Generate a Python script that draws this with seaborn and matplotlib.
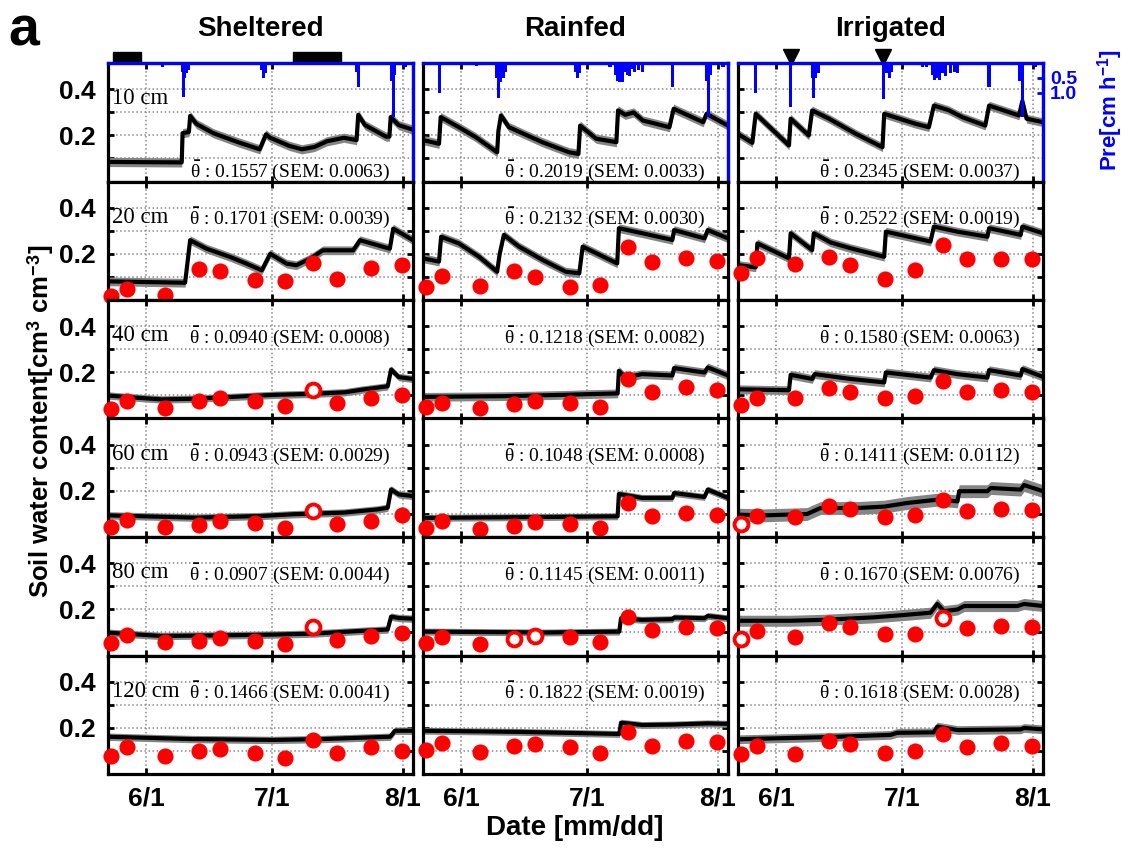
import matplotlib
matplotlib.use("Agg")
import numpy as np
import seaborn as sns
import matplotlib.pyplot as plt
import matplotlib.transforms as mtransforms
from matplotlib.patches import Rectangle

sns.set_theme(style="white")
plt.rcParams["font.family"] = ["Liberation Sans", "DejaVu Sans"]
plt.rcParams["font.weight"] = "bold"
plt.rcParams["text.color"] = "black"
plt.rcParams["axes.labelcolor"] = "black"
plt.rcParams["xtick.color"] = "black"
plt.rcParams["ytick.color"] = "black"
plt.rcParams["mathtext.fontset"] = "custom"
plt.rcParams["mathtext.rm"] = "Liberation Sans:weight=bold"
plt.rcParams["mathtext.bf"] = "Liberation Sans:weight=bold"
plt.rcParams["mathtext.it"] = "Liberation Serif:weight=normal"

# ---------------- data ----------------
treatments = ["Sheltered", "Rainfed", "Irrigated"]
depth_labels = ["10 cm", "20 cm", "40 cm", "60 cm", "80 cm", "120 cm"]
tick_days = [0, 30, 61]
tick_labels = ["6/1", "7/1", "8/1"]

# manual sampling dates (days after 6/1)
sample_days = [-8.4, -4.5, 4.6, 12.7, 17.6, 25.8, 32.9, 39.6, 45.4, 53.5, 60.8]

theta_sh = ["0.1557", "0.1701", "0.0940", "0.0943", "0.0907", "0.1466"]
sem_sh = ["0.0063", "0.0039", "0.0008", "0.0029", "0.0044", "0.0041"]
theta_rf = ["0.2019", "0.2132", "0.1218", "0.1048", "0.1145", "0.1822"]
sem_rf = ["0.0033", "0.0030", "0.0082", "0.0008", "0.0011", "0.0019"]
theta_ir = ["0.2345", "0.2522", "0.1580", "0.1411", "0.1670", "0.1618"]
sem_ir = ["0.0037", "0.0019", "0.0063", "0.0112", "0.0076", "0.0028"]

# sensor series (day after 6/1, soil water content)
line_sh_10 = [(-9, 0.085), (8.5, 0.083), (8.7, 0.21), (10.2, 0.215), (10.5, 0.285), (12, 0.25), (16, 0.21),
              (22, 0.17), (27, 0.14), (28.5, 0.205), (29.5, 0.19), (34, 0.155), (37, 0.14), (40, 0.15),
              (43, 0.175), (47, 0.19), (50, 0.18), (50.4, 0.29), (52, 0.245), (57, 0.195), (57.8, 0.195),
              (58.1, 0.28), (60, 0.245), (63.4, 0.225)]
line_rf_10 = [(-9, 0.18), (-5.2, 0.164), (-4.8, 0.28), (-0.5, 0.236), (3.5, 0.193), (8.6, 0.127), (8.9, 0.22),
              (9.5, 0.287), (11.4, 0.236), (19.3, 0.171), (25.7, 0.127), (27.9, 0.12), (28.3, 0.243),
              (32.1, 0.186), (36.9, 0.171), (37.3, 0.309), (39, 0.29), (41, 0.3), (43.2, 0.265), (49.5, 0.236),
              (50.5, 0.316), (57.5, 0.258), (58.3, 0.294), (63.4, 0.243)]
line_ir_10 = [(-9, 0.207), (-5.6, 0.168), (-4.8, 0.294), (3.1, 0.157), (3.5, 0.273), (7.8, 0.2), (8.6, 0.309),
              (12.6, 0.273), (19, 0.207), (25.3, 0.149), (25.7, 0.294), (33.1, 0.251), (36.3, 0.236),
              (37.5, 0.33), (41, 0.31), (44.2, 0.28), (49.7, 0.243), (50.6, 0.33), (57.7, 0.287), (58.5, 0.35),
              (59.5, 0.273), (63.4, 0.258)]

line_sh_20 = [(-9, 0.081), (9.3, 0.075), (10.5, 0.26), (14.4, 0.223), (20, 0.187), (23.9, 0.158), (27.5, 0.129),
              (29.5, 0.201), (33.4, 0.158), (35.7, 0.151), (39, 0.18), (42, 0.216), (49.2, 0.216), (50.8, 0.26),
              (57.9, 0.223), (58.7, 0.31), (63.4, 0.26)]
line_rf_20 = [(-9, 0.181), (-5.2, 0.167), (-4.7, 0.275), (-0.5, 0.246), (4.3, 0.188), (8.6, 0.123), (9.2, 0.2),
              (10.2, 0.283), (13.8, 0.232), (19.4, 0.174), (24.9, 0.123), (28.1, 0.116), (28.9, 0.232),
              (37.1, 0.159), (37.5, 0.312), (43.1, 0.29), (50.2, 0.261), (50.6, 0.304), (57.8, 0.268),
              (58.6, 0.304), (63.4, 0.268)]
line_ir_20 = [(-9, 0.152), (-4.8, 0.142), (-4.4, 0.246), (3.1, 0.181), (3.5, 0.29), (8.6, 0.217), (9.0, 0.29),
              (13, 0.25), (17.7, 0.225), (25.7, 0.188), (26.1, 0.297), (36.7, 0.254), (37.5, 0.319),
              (43.1, 0.297), (50.2, 0.275), (50.6, 0.312), (58.1, 0.283), (58.5, 0.319), (63.4, 0.29)]

line_sh_40 = [(-9, 0.1), (-4.2, 0.093), (3.7, 0.083), (11.6, 0.086), (19.5, 0.093), (30.6, 0.103),
              (39.3, 0.107), (47.2, 0.114), (51.1, 0.125), (57.4, 0.14), (58.2, 0.213), (60, 0.18), (63.4, 0.172)]
line_rf_40 = [(-9, 0.094), (10, 0.097), (25, 0.103), (30.5, 0.106), (37.2, 0.109), (37.5, 0.207), (39.1, 0.178),
              (43, 0.193), (50.2, 0.187), (50.6, 0.219), (57.8, 0.2), (58.6, 0.222), (63.4, 0.187)]
line_ir_40 = [(-9, 0.127), (3.1, 0.123), (3.5, 0.19), (8.6, 0.172), (9.2, 0.193), (17.7, 0.172), (25.7, 0.157),
              (26.1, 0.2), (36.7, 0.178), (37.5, 0.21), (43, 0.193), (50.2, 0.178), (50.6, 0.21), (58.1, 0.187),
              (58.5, 0.215), (63.4, 0.181)]

line_sh_60 = [(-9, 0.094), (3.7, 0.088), (11.6, 0.084), (27, 0.091), (35, 0.099), (47, 0.106), (55, 0.12),
              (57.4, 0.127), (58.2, 0.207), (60, 0.185), (63.4, 0.178)]
line_rf_60 = [(-9, 0.083), (20, 0.087), (37.2, 0.09), (37.5, 0.187), (43, 0.17), (50.2, 0.17), (50.6, 0.191),
              (57.8, 0.174), (58.6, 0.206), (63.4, 0.17)]
line_ir_60 = [(-9, 0.097), (-2.9, 0.094), (7.4, 0.1), (10.6, 0.126), (19.3, 0.126), (25.7, 0.132), (31.2, 0.148),
              (38.3, 0.162), (43.1, 0.155), (43.5, 0.199), (50.2, 0.199), (51, 0.213), (58.1, 0.206),
              (58.9, 0.226), (63.4, 0.199)]

line_sh_80 = [(-9, 0.099), (3.7, 0.085), (19.5, 0.088), (30.6, 0.091), (39.3, 0.095), (51.1, 0.107),
              (57.4, 0.113), (58.2, 0.169), (60, 0.163), (63.4, 0.16)]
line_rf_80 = [(-9, 0.104), (20, 0.1), (37.6, 0.104), (38, 0.162), (43, 0.155), (50.2, 0.158), (50.6, 0.165),
              (57.8, 0.162), (58.6, 0.172), (63.4, 0.162)]
line_ir_80 = [(-9, 0.151), (3.5, 0.151), (11.4, 0.155), (23.3, 0.166), (30.4, 0.176), (36.7, 0.186),
              (38.3, 0.224), (39.9, 0.193), (43.1, 0.2), (44.7, 0.215), (57.3, 0.215), (58.9, 0.224),
              (63.4, 0.215)]

line_sh_120 = [(-9, 0.162), (10.5, 0.152), (30.2, 0.148), (42.1, 0.152), (58, 0.162), (59.1, 0.188),
               (63.4, 0.188)]
line_rf_120 = [(-9, 0.188), (14, 0.183), (30, 0.177), (37.6, 0.174), (38, 0.223), (43, 0.213), (50.6, 0.215),
               (58.6, 0.22), (63.4, 0.218)]
line_ir_120 = [(-9, 0.151), (11.4, 0.16), (27.2, 0.17), (28.8, 0.179), (37.5, 0.181), (38.3, 0.206),
               (43.1, 0.191), (58.1, 0.194), (58.9, 0.2), (63.4, 0.194)]

# SEM band half-widths per depth
band_sh = [0.020, 0.019, 0.016, 0.016, 0.016, 0.016]
band_rf = [0.020, 0.019, 0.019, 0.015, 0.015, 0.015]
band_ir = [0.019, 0.019, 0.019, 0.028, 0.024, 0.019]

# manual measurements (20-120 cm)
pts_sh_20 = [0.017, 0.048, 0.022, 0.135, 0.126, 0.087, 0.083, 0.161, 0.091, 0.139, 0.152]
pts_sh_40 = [0.042, 0.074, 0.045, 0.074, 0.088, 0.074, 0.053, 0.126, 0.068, 0.088, 0.103]
pts_sh_60 = [0.045, 0.074, 0.045, 0.051, 0.070, 0.062, 0.041, 0.113, 0.055, 0.070, 0.094]
pts_sh_80 = [0.053, 0.088, 0.059, 0.063, 0.077, 0.063, 0.049, 0.125, 0.067, 0.085, 0.099]
pts_sh_120 = [0.080, 0.119, 0.080, 0.100, 0.107, 0.090, 0.071, 0.148, 0.093, 0.116, 0.101]
pts_rf_20 = [0.058, 0.106, 0.061, 0.128, 0.101, 0.058, 0.065, 0.232, 0.167, 0.181, 0.170]
pts_rf_40 = [0.048, 0.067, 0.045, 0.062, 0.077, 0.067, 0.052, 0.171, 0.113, 0.135, 0.125]
pts_rf_60 = [0.039, 0.068, 0.036, 0.046, 0.065, 0.058, 0.039, 0.148, 0.090, 0.104, 0.097]
pts_rf_80 = [0.053, 0.082, 0.050, 0.070, 0.085, 0.079, 0.057, 0.166, 0.111, 0.123, 0.118]
pts_rf_120 = [0.104, 0.133, 0.097, 0.122, 0.129, 0.116, 0.093, 0.181, 0.122, 0.143, 0.138]
pts_ir_20 = [0.119, 0.184, 0.155, 0.188, 0.152, 0.091, 0.130, 0.239, 0.178, 0.178, 0.178]
pts_ir_40 = [0.058, 0.087, 0.091, 0.132, 0.117, 0.087, 0.096, 0.164, 0.113, 0.125, 0.117]
pts_ir_60 = [0.057, 0.090, 0.086, 0.133, 0.122, 0.087, 0.097, 0.162, 0.114, 0.122, 0.116]
pts_ir_80 = [0.072, 0.107, 0.082, 0.143, 0.123, 0.093, 0.093, 0.162, 0.118, 0.128, 0.123]
pts_ir_120 = [0.087, 0.122, 0.087, 0.145, 0.129, 0.090, 0.100, 0.174, 0.116, 0.133, 0.123]

# hollow markers: (depth index, sample index)
hollow_sh = [(2, 7), (3, 7), (4, 7)]
hollow_rf = [(4, 3), (4, 4)]
hollow_ir = [(3, 0), (4, 0), (4, 7)]

# precipitation / irrigation [cm h-1]
pre_sh = [(3.9, 0.12), (8.6, 0.3), (8.9, 1.12), (9.2, 0.5), (9.5, 0.35), (10.0, 0.25), (27.4, 0.25),
          (27.9, 0.51), (28.3, 0.35), (50.0, 0.3), (50.4, 0.81), (58.3, 0.6), (58.7, 1.8), (59.1, 0.4),
          (61.5, 0.15)]
pre_rf = [(-5.0, 1.01), (3.7, 0.1), (8.4, 0.5), (8.9, 1.18), (9.4, 0.65), (10.0, 0.5), (10.5, 0.3),
          (27.2, 0.3), (27.7, 0.51), (28.2, 0.35), (35.4, 0.15), (36.8, 0.4), (37.2, 0.6), (37.6, 0.62),
          (38.0, 0.55), (38.4, 0.62), (39.0, 0.3), (39.5, 0.4), (40.0, 0.45), (40.5, 0.2), (41.3, 0.3),
          (42.2, 0.25), (43.1, 0.3), (50.3, 0.81), (58.2, 0.6), (58.7, 1.79), (59.3, 0.4), (62.2, 0.15)]
pre_ir = [(-4.8, 1.01), (3.5, 1.46), (8.6, 0.5), (8.9, 1.16), (9.4, 0.5), (10.0, 0.35), (25.5, 1.21),
          (26.3, 0.35), (26.9, 0.51), (27.5, 0.3), (34.8, 0.12), (35.8, 0.15), (37.2, 0.4), (37.7, 0.57),
          (38.3, 0.5), (38.8, 0.57), (39.5, 0.35), (40.2, 0.45), (41.5, 0.35), (42.5, 0.3), (43.2, 0.35),
          (50.6, 0.81), (57.9, 0.6), (58.5, 1.79), (61.7, 0.15)]

shelter_periods = [(-7.8, -1.2), (35.0, 46.3)]
irrigation_days = [3.5, 25.5]

# ---------------- assemble ----------------
lines = {
    0: [line_sh_10, line_sh_20, line_sh_40, line_sh_60, line_sh_80, line_sh_120],
    1: [line_rf_10, line_rf_20, line_rf_40, line_rf_60, line_rf_80, line_rf_120],
    2: [line_ir_10, line_ir_20, line_ir_40, line_ir_60, line_ir_80, line_ir_120],
}
points = {
    0: [None, pts_sh_20, pts_sh_40, pts_sh_60, pts_sh_80, pts_sh_120],
    1: [None, pts_rf_20, pts_rf_40, pts_rf_60, pts_rf_80, pts_rf_120],
    2: [None, pts_ir_20, pts_ir_40, pts_ir_60, pts_ir_80, pts_ir_120],
}
bands = {0: band_sh, 1: band_rf, 2: band_ir}
hollows = {0: hollow_sh, 1: hollow_rf, 2: hollow_ir}
thetas = {0: (theta_sh, sem_sh), 1: (theta_rf, sem_rf), 2: (theta_ir, sem_ir)}
pres = {0: pre_sh, 1: pre_rf, 2: pre_ir}

W, H = 1131, 848
fig = plt.figure(figsize=(W / 100, H / 100), dpi=100)
col_left = [108, 423, 738]
panel_w = 305
top0 = 63
row_h = 118.5
SPINE_W = 2.3
TICK_FS = 19

for c in range(3):
    for r in range(6):
        top = top0 + r * row_h
        ax = fig.add_axes([col_left[c] / W, 1 - (top + row_h) / H, panel_w / W, row_h / H])
        ax.set_facecolor("white")
        d, v = zip(*lines[c][r])
        d = np.array(d)
        v = np.array(v)
        w = bands[c][r]
        ax.fill_between(d, v - w, v + w, color="#858585", lw=0, zorder=2)
        sns.lineplot(x=d, y=v, ax=ax, color="black", lw=3.0, estimator=None, sort=False, zorder=3)

        pts = points[c][r]
        if pts is not None:
            hol = [j for (ri, j) in hollows[c] if ri == r]
            fx = [sample_days[j] for j in range(len(pts)) if j not in hol]
            fy = [pts[j] for j in range(len(pts)) if j not in hol]
            sns.scatterplot(x=fx, y=fy, ax=ax, color="#ff0000", s=135, linewidth=0,
                            clip_on=False, zorder=5, legend=False)
            if hol:
                hx = [sample_days[j] for j in hol]
                hy = [pts[j] for j in hol]
                sns.scatterplot(x=hx, y=hy, ax=ax, color="white", edgecolor="#ff0000", s=100,
                                linewidth=2.8, clip_on=False, zorder=5, legend=False)

        ax.set_xlim(-9, 63.4)
        ax.set_ylim(0, 0.515)
        ax.set_xticks(tick_days)
        ax.set_yticks([0.2, 0.4])
        ax.set_yticks([0.1, 0.3], minor=True)
        ax.grid(True, which="both", ls=":", color="#8a8a8a", lw=1.1)
        ax.tick_params(which="both", direction="in", top=True, bottom=True, left=True, right=True,
                       length=4, width=2, color="black")
        ax.set_xlabel("")
        ax.set_ylabel("")
        if r == 5:
            ax.set_xticklabels(tick_labels, fontsize=TICK_FS, fontweight="bold")
            ax.tick_params(axis="x", pad=9)
        else:
            ax.set_xticklabels([])
        if c == 0:
            ax.set_yticklabels(["0.2", "0.4"], fontsize=TICK_FS, fontweight="bold")
            ax.tick_params(axis="y", pad=9)
        else:
            ax.set_yticklabels([])
        for s in ax.spines.values():
            s.set_color("black")
            s.set_linewidth(SPINE_W)
            s.set_visible(True)

        th, sm = thetas[c]
        ty = 0.093 if r == 0 else 0.69
        ax.text(0.925, ty, r"$\bar{\theta}$ : " + th[r] + " (SEM: " + sm[r] + ")",
                transform=ax.transAxes, ha="right", va="center", fontsize=14,
                family="Liberation Serif", fontweight="normal", zorder=6)
        if c == 0:
            ax.text(0.014, 0.70, depth_labels[r], transform=ax.transAxes, ha="left", va="center",
                    fontsize=16.5, family="Liberation Serif", fontweight="normal", zorder=6)

        if r == 0:
            trans = mtransforms.blended_transform_factory(ax.transData, ax.transAxes)
            tw = ax.twinx()
            pdays, pvals = zip(*pres[c])
            tw.bar(pdays, pvals, width=0.75, color="#0000ff", lw=0, zorder=4)
            tw.set_ylim(3.95, 0)
            tw.set_xlim(-9, 63.4)
            for name in ["left", "bottom"]:
                tw.spines[name].set_visible(False)
            for name in ["top", "right"]:
                tw.spines[name].set_color("#0000ff")
                tw.spines[name].set_linewidth(SPINE_W)
            if c == 2:
                tw.set_yticks([0.5, 1.0])
                tw.set_yticklabels(["0.5", "1.0"], fontsize=14, fontweight="bold", color="#0000ff")
                tw.tick_params(axis="y", direction="in", length=4, width=2, colors="#0000ff", pad=5)
            else:
                tw.set_yticks([])
            tw.grid(False)
            if c == 0:
                for (a0, a1) in shelter_periods:
                    ax.add_patch(Rectangle((a0, 1.0), a1 - a0, 0.097, transform=trans,
                                           color="black", clip_on=False, zorder=6))
            if c == 2:
                for dday in irrigation_days:
                    ax.plot([dday], [1.05], marker="v", ms=11, color="black", transform=trans,
                            clip_on=False, zorder=6)

# titles and labels
centers = [(col_left[i] + panel_w / 2) / W for i in range(3)]
for i, t in enumerate(treatments):
    fig.text(centers[i], 1 - 29 / H, t, ha="center", va="center", fontsize=20, fontweight="bold")
fig.text(8 / W, 1 - 6 / H, "a", ha="left", va="top", fontsize=40, fontweight="bold")
fig.text(41 / W, 1 - 421 / H, r"Soil water content[cm$^{\mathbf{3}}$ cm$^{\mathbf{-3}}$]",
         rotation=90, ha="center", va="center", fontsize=18.5, fontweight="bold")
fig.text(575 / W, 1 - 828 / H, "Date [mm/dd]", ha="center", va="center", fontsize=20, fontweight="bold")
fig.text(1110 / W, 1 - 110 / H, r"Pre[cm h$^{\mathbf{-1}}$]", rotation=90, ha="center", va="center",
         fontsize=16, fontweight="bold", color="#0000ff")

fig.savefig("out.png", dpi=100, facecolor="white")
